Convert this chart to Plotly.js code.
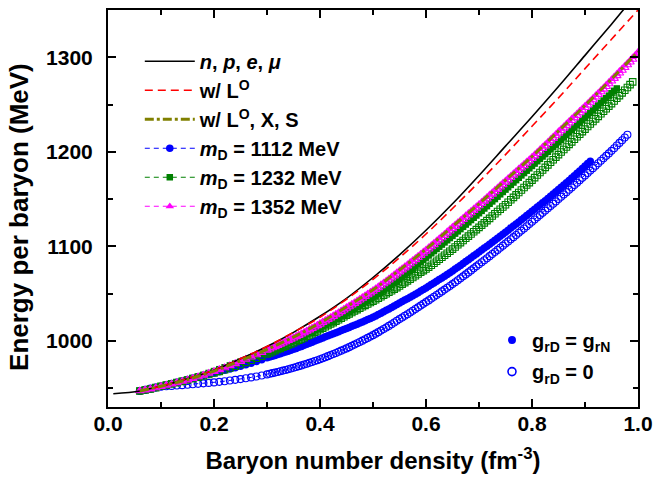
<!DOCTYPE html>
<html>
<head>
<meta charset="utf-8">
<script src="https://cdn.plot.ly/plotly-3.0.1.min.js"></script>
<style>html,body{margin:0;padding:0;background:#fff;}#chart{width:657px;height:483px;}</style>
</head>
<body>
<div id="chart"></div>
<script>
// ---- Data ----
// density grid (fm^-3) used by the marker series
const densityGrid = [0.06,0.07,0.08,0.09,0.10,0.11,0.12,0.13,0.14,0.15,0.16,0.17,0.18,0.19,0.20,
  0.21,0.22,0.23,0.24,0.25,0.26,0.27,0.28,0.29,0.30,
  0.305,0.31,0.315,0.32,0.325,0.33,0.335,0.34,0.345,0.35,0.355,0.36,0.365,0.37,0.375,0.38,0.385,0.39,0.395,0.40,
  0.405,0.41,0.415,0.42,0.425,0.43,0.435,0.44,0.445,0.45,0.455,0.46,0.465,0.47,0.475,0.48,0.485,0.49,0.495,0.50,
  0.505,0.51,0.515,0.52,0.525,0.53,0.535,0.54,0.545,0.55,0.555,0.56,0.565,0.57,0.575,0.58,0.585,0.59,0.595,0.60,
  0.605,0.61,0.615,0.62,0.625,0.63,0.635,0.64,0.645,0.65,0.655,0.66,0.665,0.67,0.675,0.68,0.685,0.69,0.695,0.70,
  0.705,0.71,0.715,0.72,0.725,0.73,0.735,0.74,0.745,0.75,0.755,0.76,0.765,0.77,0.775,0.78,0.785,0.79,0.795,0.80,
  0.805,0.81,0.815,0.82,0.825,0.83,0.835,0.84,0.845,0.85,0.855,0.86,0.865,0.87,0.875,0.88,0.885,0.89,0.895,0.90,
  0.905,0.91,0.915,0.92,0.925,0.93,0.935,0.94,0.945,0.95,0.955,0.96,0.965,0.97,0.975,0.98,0.985,0.99,0.995,1.00];

// n, p, e, mu (solid black)
const npemX = [0.01,0.06,0.10,0.15,0.20,0.25,0.30,0.35,0.40,0.45,0.50,0.55,0.60,0.65,0.70,0.75,0.80,0.85,0.90,0.95,0.975];
const npemE = [944,947,952,960,969,981,994,1009,1026,1045,1067,1091,1117,1145,1175,1206,1237,1269,1302,1335,1352];

// w/ L^O (red dashed)
const lamX = [0.06,0.10,0.15,0.20,0.25,0.30,0.35,0.40,0.45,0.50,0.55,0.60,0.65,0.70,0.75,0.80,0.85,0.90,0.95,1.00];
const lamE = [947,952,960,969,981,994,1009,1025,1044,1065,1088,1113,1140,1168,1197,1227,1257,1288,1319,1350];

// w/ L^O, X, S (olive dash-dot)
const hypX = [0.06,0.10,0.15,0.20,0.25,0.30,0.35,0.40,0.45,0.50,0.55,0.60,0.65,0.70,0.75,0.80,0.85,0.90,0.95,1.00];
const hypE = [947,952,959,968,979,991,1004,1019,1036,1054,1075,1097,1121,1145,1170,1195,1222,1249,1277,1306];

// m_D = 1112 MeV, g_rD = g_rN (filled blue circles)
const d1112Full = [947,948,949,950.5,952,953.4,954.8,956.2,957.6,959,960.4,961.8,963.2,964.6,966,
  967.4,968.8,970.2,971.6,973,974.7,976.4,978.2,980,982,
  982.9,983.7,984.6,985.5,986.4,987.3,988.2,989.1,990,991,992,993.1,994.1,995.2,996.3,997.4,998.5,999.7,1000.8,1002,
  1003.1,1004.2,1005.3,1006.4,1007.5,1008.6,1009.7,1010.8,1011.9,1013,1014.1,1015.3,1016.4,1017.6,1018.8,1020,1021.2,1022.5,1023.7,1025,
  1026.4,1027.9,1029.3,1030.8,1032.3,1033.8,1035.3,1036.9,1038.4,1040,1041.5,1043.1,1044.6,1046.2,1047.8,1049.4,1051,1052.7,1054.3,1056,
  1057.7,1059.5,1061.2,1063,1064.8,1066.6,1068.4,1070.3,1072.1,1074,1075.9,1077.9,1079.8,1081.8,1083.8,1085.8,1087.8,1089.9,1091.9,1094,
  1096,1098.1,1100.1,1102.2,1104.3,1106.4,1108.5,1110.7,1112.8,1115,1117.1,1119.3,1121.4,1123.6,1125.8,1128,1130.2,1132.5,1134.7,1137,
  1139.2,1141.5,1143.7,1146,1148.3,1150.6,1152.9,1155.3,1157.6,1160,1162.4,1164.8,1167.2,1169.7,1172.2,1174.7,1177.2,1179.8,1182.4,1185,
  1187.5,1190];
// m_D = 1112 MeV, g_rD = 0 (open blue circles)
const d1112Zero = [947,948.3,949.4,950.5,951.5,951.9,952.3,952.7,953.1,953.5,954,954.5,955,955.5,956,
  956.6,957.3,958,958.7,959.5,960.4,961.3,962.3,963.4,964.5,
  965.1,965.8,966.4,967.1,967.8,968.5,969.2,970,970.7,971.5,972.3,973.2,974,974.9,975.8,976.7,977.6,978.6,979.5,980.5,
  981.6,982.7,983.8,984.9,986,987.2,988.4,989.6,990.8,992,993.3,994.7,996,997.4,998.8,1000.2,1001.6,1003.1,1004.5,1006,
  1007.6,1009.2,1010.8,1012.5,1014.1,1015.8,1017.6,1019.4,1021.2,1023,1024.7,1026.5,1028.2,1030,1031.8,1033.6,1035.4,1037.3,1039.1,1041,
  1042.8,1044.7,1046.6,1048.5,1050.4,1052.3,1054.2,1056.1,1058,1060,1062,1064.1,1066.1,1068.2,1070.3,1072.4,1074.5,1076.7,1078.8,1081,
  1083.1,1085.3,1087.4,1089.6,1091.8,1094,1096.2,1098.5,1100.7,1103,1105.2,1107.5,1109.7,1112,1114.3,1116.6,1118.9,1121.3,1123.6,1126,
  1128.3,1130.7,1133,1135.4,1137.8,1140.2,1142.6,1145.1,1147.5,1150,1152.4,1154.9,1157.3,1159.8,1162.3,1164.8,1167.3,1169.9,1172.4,1175,
  1177.5,1180.1,1182.7,1185.3,1187.9,1190.5,1193.1,1195.7,1198.3,1201,1203.8,1206.6,1209.4,1212.2,1215.1,1218];

// m_D = 1232 MeV, g_rD = g_rN (filled green squares)
const d1232Full = [947,948,949,950.5,952,953.3,954.6,956,957.5,959,960.6,962.3,964.1,966,968,
  970,972,974,976,978,980,982,984,986,988,
  989.1,990.3,991.4,992.6,993.8,995,996.2,997.5,998.7,1000,1001.3,1002.7,1004,1005.4,1006.8,1008.2,1009.6,1011.1,1012.5,1014,
  1015.4,1016.9,1018.3,1019.8,1021.3,1022.8,1024.3,1025.9,1027.4,1029,1030.6,1032.3,1033.9,1035.6,1037.3,1039,1040.7,1042.5,1044.2,1046,
  1047.8,1049.7,1051.5,1053.4,1055.3,1057.2,1059.1,1061.1,1063,1065,1067.2,1069.5,1071.7,1074,1076.3,1078.6,1080.9,1083.3,1085.6,1088,
  1090.3,1092.6,1094.9,1097.2,1099.5,1101.8,1104.1,1106.4,1108.7,1111,1113.4,1115.8,1118.2,1120.6,1123,1125.4,1127.8,1130.2,1132.6,1135,
  1137.5,1140,1142.5,1145,1147.5,1150,1152.5,1155,1157.5,1160,1162.5,1165,1167.5,1170,1172.5,1175,1177.5,1180,1182.5,1185,
  1187.5,1190,1192.5,1195,1197.5,1200,1202.5,1205,1207.5,1210,1212.6,1215.2,1217.8,1220.4,1223,1225.6,1228.2,1230.8,1233.4,1236,
  1238.6,1241.2,1243.8,1246.4,1249,1251.6,1254.2,1256.8,1259.4,1262,1264.5,1267];
// m_D = 1232 MeV, g_rD = 0 (open green squares)
const d1232Zero = [947,948,949,950.5,952,953.2,954.5,955.8,957.1,958.5,960,961.4,962.9,964.4,966,
  967.7,969.4,971.2,973.1,975,977.2,979.4,981.6,983.8,986,
  987.2,988.4,989.6,990.8,992,993.2,994.4,995.6,996.8,998,999.3,1000.7,1002,1003.4,1004.8,1006.2,1007.6,1009.1,1010.5,1012,
  1013.4,1014.9,1016.3,1017.8,1019.3,1020.8,1022.3,1023.9,1025.4,1027,1028.5,1030,1031.5,1033,1034.5,1036,1037.5,1039,1040.5,1042,
  1043.5,1045.1,1046.6,1048.2,1049.8,1051.4,1053,1054.7,1056.3,1058,1059.8,1061.6,1063.4,1065.2,1067,1068.9,1070.7,1072.6,1074.3,1076,
  1078,1080,1082.1,1084.2,1086.3,1088.4,1090.5,1092.7,1094.8,1097,1099.3,1101.6,1103.9,1106.2,1108.5,1110.8,1113.1,1115.4,1117.7,1120,
  1122.4,1124.8,1127.2,1129.6,1132,1134.4,1136.8,1139.2,1141.6,1144,1146.6,1149.2,1151.8,1154.4,1157,1159.6,1162.2,1164.8,1167.4,1170,
  1172.7,1175.4,1178.1,1180.8,1183.5,1186.2,1188.9,1191.6,1194.3,1197,1199.7,1202.4,1205.1,1207.8,1210.5,1213.2,1215.9,1218.6,1221.3,1224,
  1226.7,1229.4,1232.1,1234.8,1237.5,1240.2,1242.9,1245.6,1248.3,1251,1253.8,1256.6,1259.4,1262.3,1265.1,1268,1271,1274];

// m_D = 1352 MeV, g_rD = g_rN (filled magenta triangles)
const d1352Full = [947,948,949,950.5,952,953.3,954.6,956,957.5,959,960.6,962.3,964.1,966,968,
  970,972.1,974.3,976.6,979,981.3,983.6,986,988.5,991,
  992.2,993.5,994.7,996,997.3,998.6,999.9,1001.3,1002.6,1004,1005.4,1006.8,1008.2,1009.7,1011.2,1012.7,1014.2,1015.8,1017.4,1019,
  1020.6,1022.2,1023.8,1025.5,1027.2,1028.9,1030.6,1032.4,1034.2,1036,1037.7,1039.5,1041.2,1043,1044.8,1046.6,1048.4,1050.3,1052.1,1054,
  1056,1058,1060,1062.1,1064.2,1066.3,1068.4,1070.6,1072.8,1075,1077.1,1079.3,1081.4,1083.6,1085.8,1088,1090.2,1092.5,1094.7,1097,
  1099.3,1101.7,1104,1106.4,1108.8,1111.2,1113.6,1116.1,1118.5,1121,1123.4,1125.8,1128.2,1130.6,1133,1135.4,1137.8,1140.2,1142.6,1145,
  1147.5,1150,1152.5,1155,1157.5,1160,1162.5,1165,1167.5,1170,1172.5,1175,1177.5,1180,1182.5,1185,1187.5,1190,1192.5,1195,
  1197.6,1200.3,1202.9,1205.6,1208.3,1211,1213.7,1216.5,1219.2,1222,1224.7,1227.4,1230.1,1232.8,1235.5,1238.2,1240.9,1243.6,1246.3,1249,
  1251.7,1254.5,1257.2,1260,1262.8,1265.6,1268.4,1271.2,1274.1,1277,1279.8,1282.7,1285.6,1288.5,1291.4,1294.3,1297.2,1300.1,1303,1306];
// m_D = 1352 MeV, g_rD = 0 (open magenta triangles)
const d1352Zero = [947,948,949,950.3,951.7,953,954.3,955.7,957.1,958.6,960.2,961.9,963.6,965.5,967.4,
  969.4,971.4,973.6,975.8,978.1,980.4,982.7,985.1,987.5,990,
  991.2,992.5,993.7,995,996.3,997.6,998.9,1000.2,1001.5,1002.9,1004.3,1005.7,1007.1,1008.5,1010,1011.5,1013,1014.5,1016,1017.6,
  1019.2,1020.8,1022.4,1024,1025.7,1027.4,1029.1,1030.8,1032.5,1034.3,1036,1037.8,1039.5,1041.3,1043.1,1044.9,1046.7,1048.6,1050.4,1052.3,
  1054.2,1056.2,1058.2,1060.2,1062.2,1064.3,1066.4,1068.5,1070.6,1072.8,1074.9,1077.1,1079.2,1081.4,1083.6,1085.8,1088,1090.3,1092.5,1094.8,
  1097.1,1099.4,1101.7,1104.1,1106.5,1108.9,1111.3,1113.7,1116.1,1118.6,1121,1123.4,1125.8,1128.2,1130.6,1133,1135.4,1137.9,1140.3,1142.8,
  1145.2,1147.7,1150.1,1152.6,1155.1,1157.6,1160.1,1162.6,1165.1,1167.6,1170.1,1172.6,1175.1,1177.6,1180.1,1182.7,1185.2,1187.8,1190.3,1192.9,
  1195.5,1198.1,1200.7,1203.4,1206,1208.7,1211.4,1214.1,1216.8,1219.5,1222.2,1224.9,1227.6,1230.3,1233,1235.7,1238.4,1241.2,1243.9,1246.7,
  1249.4,1252.2,1255,1257.8,1260.6,1263.4,1266.2,1269,1271.8,1274.7,1277.5,1280.4,1283.2,1286.1,1289,1291.9,1294.8,1297.7];

const xTickVals = [0.0,0.2,0.4,0.6,0.8,1.0];
const xTickText = ['0.0','0.2','0.4','0.6','0.8','1.0'];
const yTickVals = [1000,1100,1200,1300];
const yTickText = ['1000','1100','1200','1300'];

const seriesNames = {
  npem: '<i>n</i>, <i>p</i>, <i>e</i>, <i>μ</i>',
  lam: 'w/ L<sup>O</sup>',
  hyp: 'w/ L<sup>O</sup>, X, S',
  d1112: '<i>m</i><sub>D</sub> = 1112 MeV',
  d1232: '<i>m</i><sub>D</sub> = 1232 MeV',
  d1352: '<i>m</i><sub>D</sub> = 1352 MeV',
  full: 'g<sub>rD</sub> = g<sub>rN</sub>',
  zero: 'g<sub>rD</sub> = 0'
};
const xTitle = 'Baryon number density (fm<sup>-3</sup>)';
const yTitle = 'Energy per baryon (MeV)';

// ---- Traces ----
const FONT = 'Liberation Sans, Arial, sans-serif';
const mdash = '5px,4px';
function markerSeries(vals, color, symbol, size, filled, name, rank, show) {
  return {
    type: 'scatter', mode: 'lines+markers',
    x: densityGrid.slice(0, vals.length), y: vals,
    name: name, showlegend: show, legendrank: rank, legendgroup: 'g' + rank,
    line: {color: color, width: 1, dash: mdash},
    marker: filled
      ? {symbol: symbol, size: size, color: color, line: {width: 0}}
      : {symbol: symbol + '-open', size: size, color: color, line: {width: 1.1, color: color}}
  };
}

const traces = [
  markerSeries(d1112Zero, '#0000FF', 'circle', 7, false, seriesNames.d1112, 40, false),
  markerSeries(d1112Full, '#0000FF', 'circle', 7.5, true, seriesNames.d1112, 4, true),
  markerSeries(d1232Zero, '#008000', 'square', 6.5, false, seriesNames.d1232, 50, false),
  markerSeries(d1232Full, '#008000', 'square', 6.5, true, seriesNames.d1232, 5, true),
  markerSeries(d1352Zero, '#FF00FF', 'triangle-up', 7.5, false, seriesNames.d1352, 60, false),
  markerSeries(d1352Full, '#FF00FF', 'triangle-up', 7.5, true, seriesNames.d1352, 6, true),
  {type:'scatter', mode:'lines', x:npemX, y:npemE, name:seriesNames.npem, legendrank:1, legendgroup:'g1',
   line:{color:'#000000', width:1.6, shape:'spline'}},
  {type:'scatter', mode:'lines', x:lamX, y:lamE, name:seriesNames.lam, legendrank:2, legendgroup:'g2',
   line:{color:'#FF0000', width:1.6, dash:'8px,5px', shape:'spline'}},
  {type:'scatter', mode:'lines', x:hypX, y:hypE, name:seriesNames.hyp, legendrank:3, legendgroup:'g3',
   line:{color:'#808000', width:3, dash:'9px,3px,3px,3px', shape:'spline'}},
  // second legend (coupling)
  {type:'scatter', mode:'markers', x:[null], y:[null], name:seriesNames.full, legend:'legend2', legendrank:1,
   legendgroup:'c1', marker:{symbol:'circle', size:8, color:'#0000FF'}},
  {type:'scatter', mode:'markers', x:[null], y:[null], name:seriesNames.zero, legend:'legend2', legendrank:2,
   legendgroup:'c2', marker:{symbol:'circle-open', size:8, color:'#0000FF', line:{width:1.6, color:'#0000FF'}}}
];

const axisCommon = {
  showline: true, linewidth: 2, linecolor: '#000', mirror: 'allticks',
  ticks: 'inside', ticklen: 8, tickwidth: 2, tickcolor: '#000',
  showgrid: false, zeroline: false,
  tickfont: {family: FONT, size: 21, color: '#000', weight: 'bold'}
};

const layout = {
  width: 657, height: 483,
  margin: {l: 108, r: 19, t: 10, b: 76, pad: 0},
  paper_bgcolor: '#fff', plot_bgcolor: '#fff',
  font: {family: FONT, size: 20, color: '#000', weight: 'bold'},
  showlegend: true,
  xaxis: Object.assign({}, axisCommon, {
    range: [0, 1], tickvals: xTickVals, ticktext: xTickText, ticklabelstandoff: -3,
    minor: {ticks: 'inside', ticklen: 5, tickwidth: 2, tickcolor: '#000', dtick: 0.1, showgrid: false},
    title: {text: xTitle, standoff: 18,
            font: {family: FONT, size: 24, color: '#000', weight: 'bold'}}
  }),
  yaxis: Object.assign({}, axisCommon, {
    range: [930, 1350], tickvals: yTickVals, ticktext: yTickText, ticklabelstandoff: 9,
    minor: {ticks: 'inside', ticklen: 5, tickwidth: 2, tickcolor: '#000', dtick: 50, showgrid: false}
  }),
  annotations: [{
    text: yTitle, xref: 'paper', yref: 'paper', x: -0.168, y: 0.4786,
    xanchor: 'center', yanchor: 'middle', textangle: -90, showarrow: false,
    font: {family: FONT, size: 26, color: '#000', weight: 'bold'}
  }],
  legend: {
    x: 0.060, y: 0.92, xanchor: 'left', yanchor: 'top',
    bgcolor: 'rgba(0,0,0,0)', borderwidth: 0, itemwidth: 50,
    traceorder: 'grouped', tracegroupgap: 0,
    font: {family: FONT, size: 20, color: '#000', weight: 'bold'}
  },
  legend2: {
    x: 0.7245, y: 0.2176, xanchor: 'left', yanchor: 'top',
    bgcolor: 'rgba(0,0,0,0)', borderwidth: 0, itemwidth: 30,
    traceorder: 'grouped', tracegroupgap: 2.5,
    font: {family: FONT, size: 20, color: '#000', weight: 'bold'}
  }
};

Plotly.newPlot('chart', traces, layout, {staticPlot: true, displayModeBar: false});
</script>
</body>
</html>
